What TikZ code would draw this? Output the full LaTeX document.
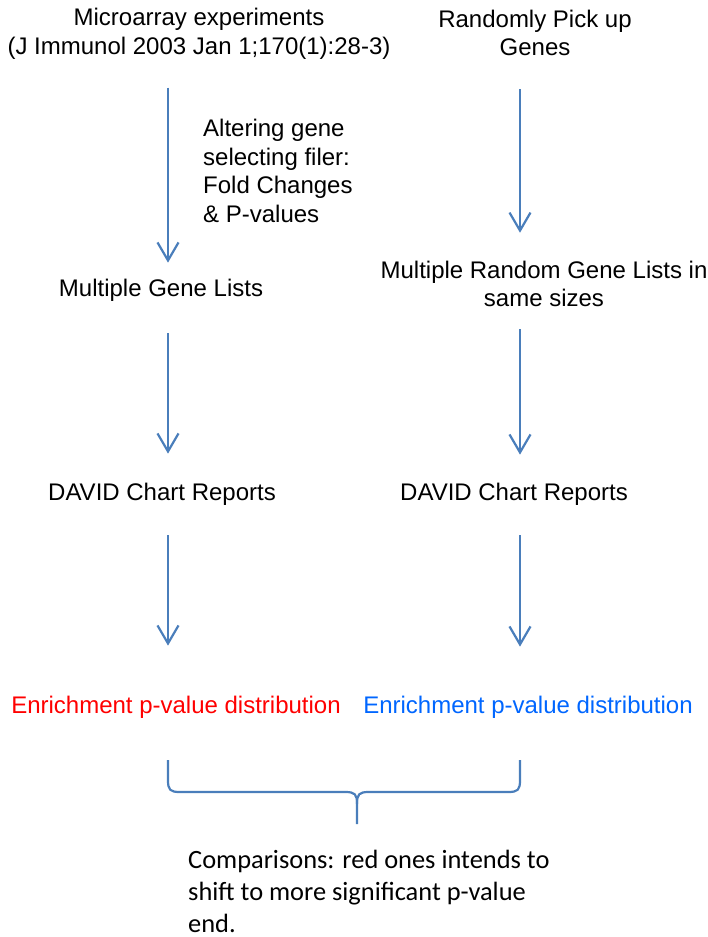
\documentclass[tikz,border=0pt]{standalone}
\usepackage{fontspec}
\setmainfont{Liberation Sans}
\newfontfamily\calfont{Carlito}
\usepackage{tikz}
\usetikzlibrary{arrows.meta,calc,positioning}
\definecolor{flowblue}{RGB}{74,126,187}
\definecolor{pvred}{RGB}{255,0,0}
\definecolor{pvblue}{RGB}{0,102,255}
\tikzset{
    flowchart/.style={x=1pt,y=-1pt,>={Straight Barb[length=18pt,width=21pt,line width=2.2pt]}},
    stage/.style={inner sep=0pt, align=center, font=\fontsize{24}{28.5}\selectfont},
    note/.style={inner sep=0pt, align=left, font=\fontsize{24}{28.5}\selectfont},
    flow/.style={->, color=flowblue, line width=2.2pt},
    brace/.style={draw=flowblue, line width=2.2pt, line join=round},
    }
\begin{document}
\begin{tikzpicture}[flowchart]
            \useasboundingbox (0,0) rectangle (708,937);

            \coordinate (lx) at (168,0);
            \coordinate (rx) at (520,0);

            \node[stage] (mexp) at (199,34) {Microarray experiments\\(J Immunol 2003 Jan 1;170(1):28-3)};
            \node[stage] (rpick) at (535,33) {Randomly Pick up\\Genes};
            \node[note, anchor=north west] (alter) at (203,119) {Altering gene\\selecting filer:\\Fold Changes\\\& P-values};

            \node[stage] (mgl) at (161,290) {Multiple Gene Lists};
            \node[stage] (mrgl) at (544,284) {Multiple Random Gene Lists in\\same sizes};

            \node[stage] (dl) at (162,494) {DAVID Chart Reports};
            \node[stage] (dr) at (514,494) {DAVID Chart Reports};

            \node[stage, text=pvred] (el) at (176,707) {Enrichment p-value distribution};
            \node[stage, text=pvblue] (er) at (528,707) {Enrichment p-value distribution};

            \node[note, anchor=north west, font=\calfont\fontsize{26.4}{32}\selectfont] (cmp) at (188,850)
                {Comparisons: red ones intends to\\shift to more significant p-value\\end.};

            \path[flow] (mexp.south -| lx) edge[shorten <=28pt, shorten >=16pt] (mgl.north -| lx);
            \path[flow] (rpick.south -| rx) edge[shorten <=33pt, shorten >=28pt] (mrgl.north -| rx);

            \path[flow] (mgl.south -| lx) edge[shorten <=32pt, shorten >=29pt] (dl.north -| lx);
            \path[flow] (mrgl.south -| rx) edge[shorten <=22pt, shorten >=28pt] (dr.north -| rx);

            \path[flow] (dl.south -| lx) edge[shorten <=30pt, shorten >=50pt] (el.north -| lx);
            \path[flow] (dr.south -| rx) edge[shorten <=30pt, shorten >=49pt] (er.north -| rx);

            % brace joining the two distributions
            \coordinate (bl) at (168,760);
            \coordinate (br) at (520,760);
            \coordinate (bm) at (357,824);
            \path[brace] (bl) -- ($(bl)+(0,20)$) .. controls ($(bl)+(0,30)$) and ($(bl)+(2,32)$) .. ($(bl)+(12,32)$)
                -- ($(bm)+(-12,-32)$) .. controls ($(bm)+(-2,-32)$) and ($(bm)+(0,-30)$) .. ($(bm)+(0,-20)$) -- (bm);
            \path[brace] (br) -- ($(br)+(0,20)$) .. controls ($(br)+(0,30)$) and ($(br)+(-2,32)$) .. ($(br)+(-12,32)$)
                -- ($(bm)+(12,-32)$) .. controls ($(bm)+(2,-32)$) and ($(bm)+(0,-30)$) .. ($(bm)+(0,-20)$);
        \end{tikzpicture}
\end{document}
